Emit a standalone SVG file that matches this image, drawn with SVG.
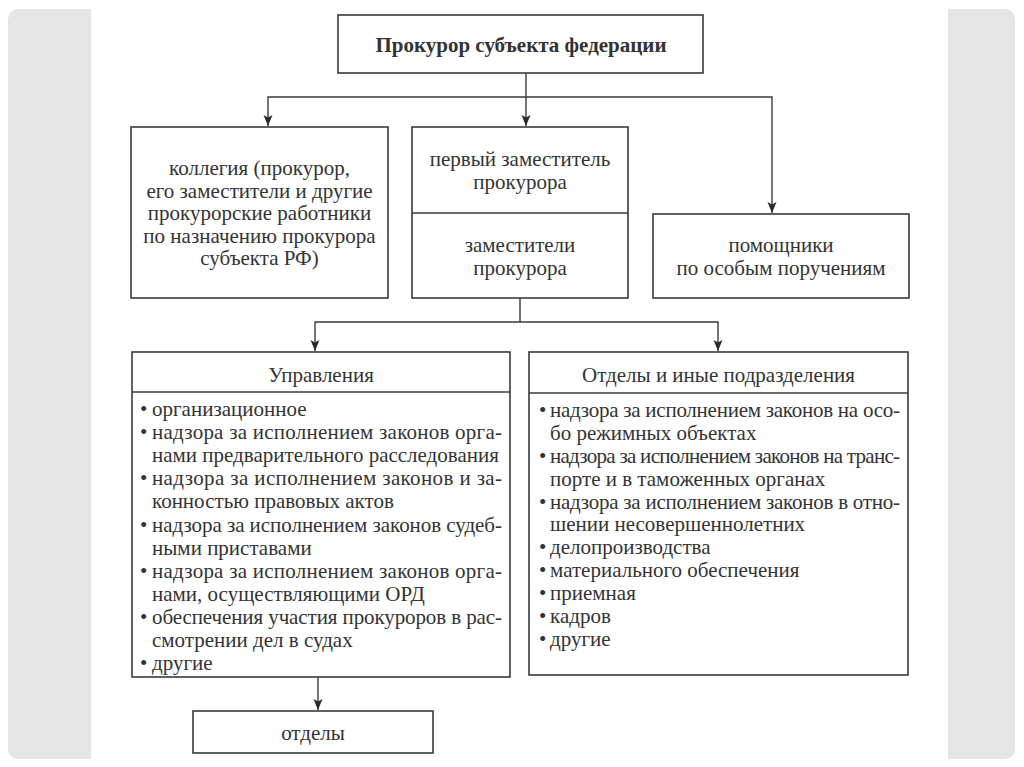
<svg xmlns="http://www.w3.org/2000/svg" width="1024" height="767" viewBox="0 0 1024 767">
  <style>
    .box { fill: #ffffff; stroke: #3a3a3a; stroke-width: 1.6; }
    .div { stroke: #3a3a3a; stroke-width: 1.6; fill: none; }
    .conn { stroke: #3a3a3a; stroke-width: 1.4; fill: none; }
    text { font-family: 'Liberation Serif', 'DejaVu Serif', serif; font-size: 21px; fill: #333333; }
    .c { text-anchor: middle; }
    .title { font-weight: bold; font-size: 21px; }
  </style>
  <defs>
    <marker id="arr" markerUnits="userSpaceOnUse" markerWidth="12" markerHeight="10" refX="11" refY="4.5" orient="auto">
      <path d="M0,0 L11,4.5 L0,9 L2.5,4.5 z" fill="#2a2a2a"/>
    </marker>
  </defs>

  <rect x="0" y="0" width="1024" height="767" fill="#ffffff"/>
  <rect x="8" y="9" width="1007" height="750" rx="10" ry="10" fill="#e5e5e5"/>
  <rect x="91" y="0" width="857" height="767" fill="#ffffff"/>

  <g id="connectors">
    <path class="conn" d="M526,73 V126" marker-end="url(#arr)"/>
    <path class="conn" d="M526,97 H268 V126" marker-end="url(#arr)"/>
    <path class="conn" d="M526,97 H772 V213" marker-end="url(#arr)"/>
    <path class="conn" d="M520,298 V322 H315 V351" marker-end="url(#arr)"/>
    <path class="conn" d="M520,322 H718 V351" marker-end="url(#arr)"/>
    <path class="conn" d="M318,677 V710" marker-end="url(#arr)"/>
  </g>

  <g id="prokuror">
    <rect class="box" x="338" y="15" width="365" height="58"/>
    <text class="c title" x="521" y="52">Прокурор субъекта федерации</text>
  </g>

  <g id="kollegiya">
    <rect class="box" x="131" y="127" width="257" height="171"/>
    <text class="c" x="259.5" y="175">коллегия (прокурор,</text>
    <text class="c" x="259.5" y="198">его заместители и другие</text>
    <text class="c" x="259.5" y="220">прокурорские работники</text>
    <text class="c" x="259.5" y="243">по назначению прокурора</text>
    <text class="c" x="259.5" y="265">субъекта РФ)</text>
  </g>

  <g id="zamestiteli">
    <rect class="box" x="412" y="127" width="216" height="171"/>
    <line class="div" x1="412" y1="213" x2="628" y2="213"/>
    <text class="c" x="520" y="166">первый заместитель</text>
    <text class="c" x="520" y="189">прокурора</text>
    <text class="c" x="520" y="252">заместители</text>
    <text class="c" x="520" y="275">прокурора</text>
  </g>

  <g id="pomoshniki">
    <rect class="box" x="653" y="214" width="256" height="84"/>
    <text class="c" x="781" y="252">помощники</text>
    <text class="c" x="781" y="275">по особым поручениям</text>
  </g>

  <g id="upravleniya">
    <rect class="box" x="132" y="352" width="378" height="325"/>
    <line class="div" x1="132" y1="392" x2="510" y2="392"/>
    <text class="c" x="321" y="382">Управления</text>
    <text x="140" y="416">•</text><text x="152" y="416">организационное</text>
    <text x="140" y="439">•</text><text x="152" y="439" textLength="350" lengthAdjust="spacing">надзора за исполнением законов орга-</text>
    <text x="152" y="462">нами предварительного расследования</text>
    <text x="140" y="485">•</text><text x="152" y="485" textLength="350" lengthAdjust="spacing">надзора за исполнением законов и за-</text>
    <text x="152" y="508">конностью правовых актов</text>
    <text x="140" y="532">•</text><text x="152" y="532" textLength="350" lengthAdjust="spacing">надзора за исполнением  законов судеб-</text>
    <text x="152" y="555">ными приставами</text>
    <text x="140" y="578">•</text><text x="152" y="578" textLength="350" lengthAdjust="spacing">надзора за исполнением законов орга-</text>
    <text x="152" y="601">нами, осуществляющими ОРД</text>
    <text x="140" y="624">•</text><text x="152" y="624" textLength="350" lengthAdjust="spacing">обеспечения участия прокуроров в рас-</text>
    <text x="152" y="647">смотрении дел в судах</text>
    <text x="140" y="670">•</text><text x="152" y="670">другие</text>
  </g>

  <g id="otdely-inye">
    <rect class="box" x="529" y="352" width="379" height="323"/>
    <line class="div" x1="529" y1="393" x2="908" y2="393"/>
    <text class="c" x="718.5" y="382">Отделы и иные подразделения</text>
    <text x="539" y="417">•</text><text x="550" y="417" textLength="350" lengthAdjust="spacing">надзора за исполнением законов на осо-</text>
    <text x="550" y="440">бо режимных объектах</text>
    <text x="539" y="463">•</text><text x="550" y="463" textLength="350" lengthAdjust="spacing">надзора за исполнением законов на транс-</text>
    <text x="550" y="486">порте и в таможенных органах</text>
    <text x="539" y="509">•</text><text x="550" y="509" textLength="350" lengthAdjust="spacing">надзора за исполнением законов в отно-</text>
    <text x="550" y="531">шении несовершеннолетних</text>
    <text x="539" y="554">•</text><text x="550" y="554">делопроизводства</text>
    <text x="539" y="577">•</text><text x="550" y="577">материального обеспечения</text>
    <text x="539" y="600">•</text><text x="550" y="600">приемная</text>
    <text x="539" y="623">•</text><text x="550" y="623">кадров</text>
    <text x="539" y="646">•</text><text x="550" y="646">другие</text>
  </g>

  <g id="otdely">
    <rect class="box" x="193" y="711" width="240" height="42"/>
    <text class="c" x="313" y="740">отделы</text>
  </g>
</svg>
